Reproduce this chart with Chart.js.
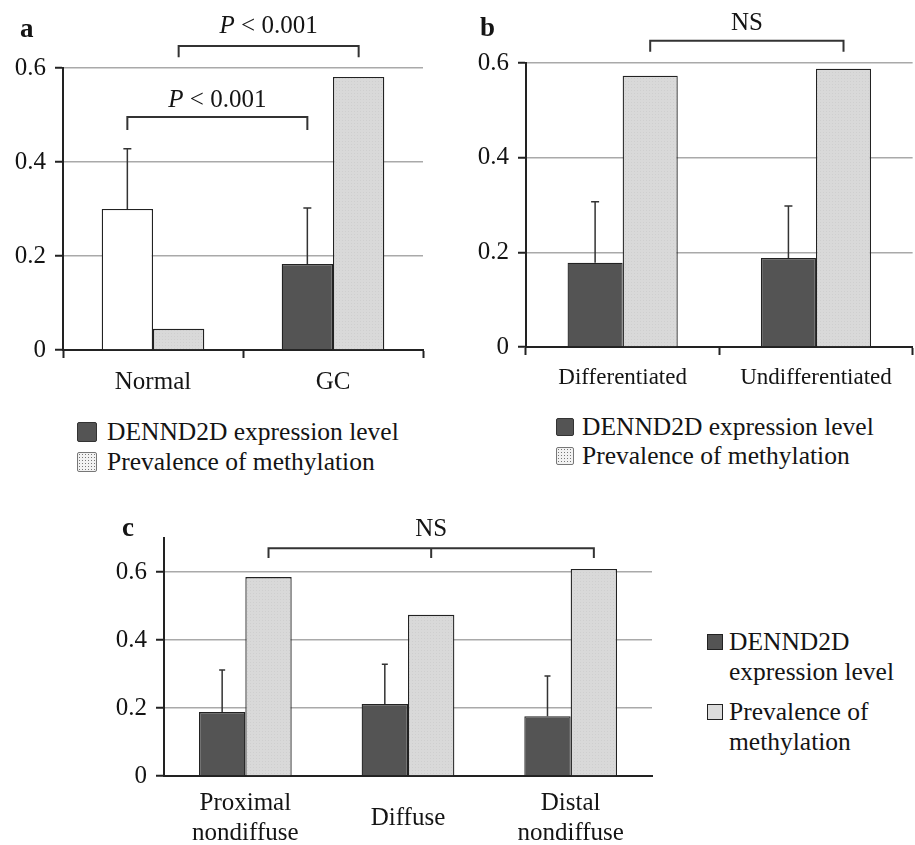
<!DOCTYPE html>
<html>
<head>
<meta charset="utf-8">
<script src="https://cdn.jsdelivr.net/npm/chart.js@4.4.1/dist/chart.umd.min.js"></script>
<style>
  body { margin: 0; background: #fff; }
  #page { position: relative; width: 915px; height: 845px; font-family: 'Liberation Serif', 'Times New Roman', 'DejaVu Serif', serif; color: #141414; }
  canvas { position: absolute; }
  .tag { position: absolute; font-weight: bold; font-size: 27px; line-height: 27px; }
  .legend { position: absolute; font-size: 25.5px; }
  .row { display: flex; align-items: center; white-space: nowrap; }
  .box { display: inline-block; box-sizing: border-box; flex: none; }
  .dark { background: #545454; border: 1.5px solid #333; border-radius: 2px; }
  .dots { background-color: #f2f2f2; border: 1.5px solid #777; border-radius: 2px;
          background-image: radial-gradient(#777 0.8px, transparent 1px); background-size: 3px 3px; }
  .darkc { background: #545454; border: 1px solid #222; }
  .lightc { background: #dcdcdc; border: 1px solid #222; }
</style>
</head>
<body>
<div id="page">
  <canvas id="chartA" width="450" height="400" style="left:0;top:0"></canvas>
  <canvas id="chartB" width="455" height="395" style="left:460px;top:0"></canvas>
  <canvas id="chartC" width="560" height="345" style="left:100px;top:500px"></canvas>

  <div class="tag" style="left:20px;top:15px">a</div>
  <div class="tag" style="left:480px;top:14px">b</div>
  <div class="tag" style="left:122px;top:514px">c</div>

  <div class="legend" style="left:77px;top:417px;line-height:30px">
    <div class="row"><span class="box dark" style="width:20px;height:20px;margin-right:10px"></span>DENND2D expression level</div>
    <div class="row"><span class="box dots" style="width:20px;height:20px;margin-right:10px"></span>Prevalence of methylation</div>
  </div>
  <div class="legend" style="left:556px;top:412px;line-height:29px">
    <div class="row"><span class="box dark" style="width:18px;height:18px;margin-right:8px"></span>DENND2D expression level</div>
    <div class="row"><span class="box dots" style="width:18px;height:18px;margin-right:8px"></span>Prevalence of methylation</div>
  </div>
  <div class="legend" style="left:707px;top:627px;line-height:30px">
    <div class="row" style="align-items:flex-start"><span class="box darkc" style="width:16px;height:16px;margin:7px 6px 0 0"></span><span>DENND2D<br>expression level</span></div>
    <div class="row" style="align-items:flex-start;margin-top:10px"><span class="box lightc" style="width:16px;height:16px;margin:7px 6px 0 0"></span><span>Prevalence of<br>methylation</span></div>
  </div>
</div>

<script>
// Panel a: normal mucosa vs gastric cancer
const labelsA = ['Normal', 'GC'];
const exprA = [0.30, 0.183];
const exprErrA = [0.128, 0.119];
const methA = [0.045, 0.581];

// Panel b: differentiation
const labelsB = ['Differentiated', 'Undifferentiated'];
const exprB = [0.178, 0.188];
const exprErrB = [0.129, 0.110];
const methB = [0.573, 0.588];

// Panel c: location
const labelsC = [['Proximal', 'nondiffuse'], 'Diffuse', ['Distal', 'nondiffuse']];
const exprC = [0.188, 0.212, 0.176];
const exprErrC = [0.124, 0.117, 0.118];
const methC = [0.585, 0.474, 0.609];

const FONT = "'Liberation Serif', 'Times New Roman', 'DejaVu Serif', serif";
const DARK = '#545454';
const INK = '#222';

// light dotted fill used for the methylation bars
const lightFill = (canvas) => {
  const tile = document.createElement('canvas');
  tile.width = 3; tile.height = 3;
  const t = tile.getContext('2d');
  t.fillStyle = '#d9d9d9'; t.fillRect(0, 0, 3, 3);
  t.fillStyle = '#cfcfcf'; t.fillRect(0, 0, 1, 1);
  return canvas.getContext('2d').createPattern(tile, 'repeat');
};

const errorBars = {
  id: 'errorBars',
  afterDatasetsDraw(chart, args, opts) {
    const { ctx } = chart;
    const y = chart.scales.y;
    chart.data.datasets.forEach((ds, i) => {
      if (!ds.errors) return;
      chart.getDatasetMeta(i).data.forEach((bar, j) => {
        const top = y.getPixelForValue(ds.data[j] + ds.errors[j]);
        ctx.save();
        ctx.strokeStyle = '#333';
        ctx.lineWidth = 1.5;
        ctx.beginPath();
        ctx.moveTo(bar.x, bar.y);
        ctx.lineTo(bar.x, top);
        ctx.moveTo(bar.x - opts.cap, top);
        ctx.lineTo(bar.x + opts.cap, top);
        ctx.stroke();
        ctx.restore();
      });
    });
  }
};

const brackets = {
  id: 'brackets',
  afterDraw(chart, args, opts) {
    const { ctx } = chart;
    const y = chart.scales.y;
    const xOf = ([d, i]) => chart.getDatasetMeta(d).data[i].x;
    opts.items.forEach((b) => {
      const xs = b.at.map(xOf);
      const x0 = xs[0], x1 = xs[xs.length - 1];
      const yTop = y.getPixelForValue(b.level);
      const yLeg = y.getPixelForValue(b.leg);
      ctx.save();
      ctx.strokeStyle = '#333';
      ctx.lineWidth = 2;
      ctx.beginPath();
      ctx.moveTo(x0, yLeg);
      ctx.lineTo(x0, yTop);
      ctx.lineTo(x1, yTop);
      ctx.lineTo(x1, yLeg);
      xs.slice(1, -1).forEach((x) => { ctx.moveTo(x, yTop); ctx.lineTo(x, yLeg); });
      ctx.stroke();

      // label, with optional italic parts
      const fonts = b.text.map((p) => (p[1] ? 'italic ' : '') + '25px ' + FONT);
      const widths = b.text.map((p, k) => { ctx.font = fonts[k]; return ctx.measureText(p[0]).width; });
      let x = (x0 + x1) / 2 - widths.reduce((s, w) => s + w, 0) / 2;
      const ty = y.getPixelForValue(b.textAt);
      ctx.fillStyle = '#141414';
      ctx.textBaseline = 'middle';
      ctx.textAlign = 'left';
      b.text.forEach((p, k) => { ctx.font = fonts[k]; ctx.fillText(p[0], x, ty); x += widths[k]; });
      ctx.restore();
    });
  }
};

function panel(id, o) {
  const canvas = document.getElementById(id);
  return new Chart(canvas, {
    type: 'bar',
    data: {
      labels: o.labels,
      datasets: [
        {
          label: 'DENND2D expression level',
          data: o.expr,
          errors: o.err,
          backgroundColor: o.exprColors,
          borderColor: INK,
          borderWidth: 1.3,
          categoryPercentage: 0.57,
          barPercentage: 1,
        },
        {
          label: 'Prevalence of methylation',
          data: o.meth,
          backgroundColor: lightFill(canvas),
          borderColor: INK,
          borderWidth: 1.3,
          categoryPercentage: 0.57,
          barPercentage: 1,
        },
      ],
    },
    options: {
      responsive: false,
      animation: false,
      events: [],
      layout: { padding: o.padding },
      plugins: {
        legend: { display: false },
        tooltip: { enabled: false },
        errorBars: { cap: o.cap },
        brackets: { items: o.brackets },
      },
      scales: {
        x: {
          grid: {
            offset: true,
            drawOnChartArea: false,
            tickLength: 8,
            tickWidth: 2,
            tickColor: o.xTicks ? INK : 'rgba(0,0,0,0)',
          },
          border: { color: INK, width: 2 },
          ticks: {
            color: '#141414',
            font: { family: FONT, size: o.xFont },
            padding: o.xPad,
            maxRotation: 0,
            autoSkip: false,
            crossAlign: 'center',
          },
          afterFit: (s) => { s.height = o.xHeight; },
        },
        y: {
          min: 0,
          max: o.max,
          ticks: {
            stepSize: 0.2,
            includeBounds: false,
            color: '#141414',
            font: { family: FONT, size: 25 },
            padding: 9,
            callback: (v) => (v === 0 ? '0' : v.toFixed(1)),
          },
          grid: {
            color: (c) => (c.tick && c.tick.value === 0 ? 'rgba(0,0,0,0)' : '#a9a9a9'),
            lineWidth: 1.5,
            tickColor: INK,
            tickLength: 8,
            tickWidth: 2,
          },
          border: { color: INK, width: 2 },
          afterFit: (s) => { s.width = o.yWidth; },
        },
      },
    },
    plugins: [errorBars, brackets],
  });
}

const P = [['P', true], [' < 0.001', false]];

panel('chartA', {
  labels: labelsA, expr: exprA, err: exprErrA, meth: methA,
  exprColors: ['#ffffff', DARK],
  max: 0.6, yWidth: 63, xHeight: 50, xFont: 25, xPad: 24, xTicks: true, cap: 4,
  padding: { left: 0, top: 68, right: 27, bottom: 0 },
  brackets: [
    { at: [[0, 0], [0, 1]], level: 0.496, leg: 0.468, textAt: 0.532, text: P },
    { at: [[1, 0], [1, 1]], level: 0.647, leg: 0.623, textAt: 0.689, text: P },
  ],
});

panel('chartB', {
  labels: labelsB, expr: exprB, err: exprErrB, meth: methB,
  exprColors: DARK,
  max: 0.6, yWidth: 66, xHeight: 48, xFont: 23, xPad: 23, xTicks: true, cap: 4,
  padding: { left: 0, top: 63, right: 1, bottom: 0 },
  brackets: [
    { at: [[1, 0], [1, 1]], level: 0.647, leg: 0.624, textAt: 0.683, text: [['NS', false]] },
  ],
});

panel('chartC', {
  labels: labelsC, expr: exprC, err: exprErrC, meth: methC,
  exprColors: DARK,
  max: 0.7, yWidth: 64, xHeight: 69, xFont: 25, xPad: 19, xTicks: false, cap: 3,
  padding: { left: 0, top: 38, right: 8, bottom: 0 },
  brackets: [
    { at: [[1, 0], [1, 1], [1, 2]], level: 0.67, leg: 0.641, textAt: 0.726, text: [['NS', false]] },
  ],
});
</script>
</body>
</html>
